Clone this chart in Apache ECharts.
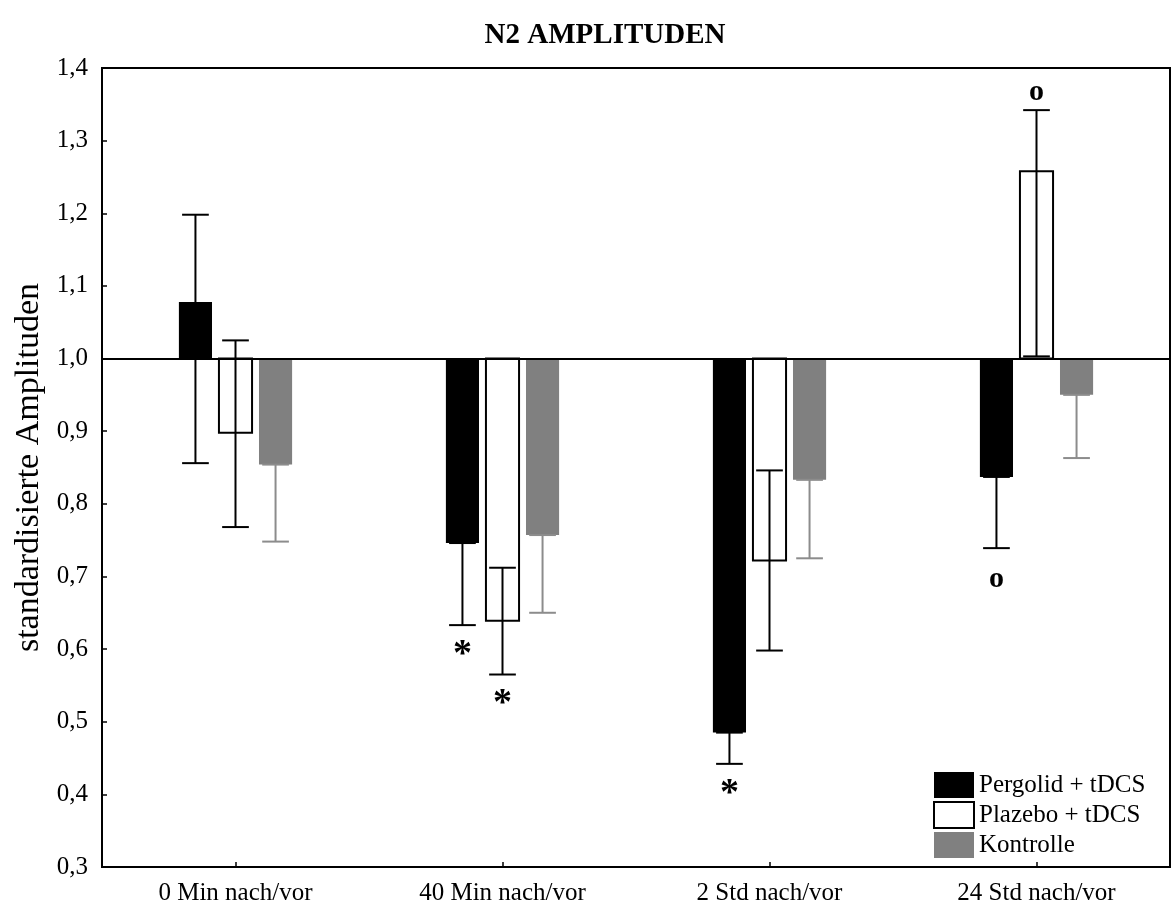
<!DOCTYPE html>
<html>
<head>
<meta charset="utf-8">
<script src="https://cdn.jsdelivr.net/npm/echarts@6/dist/echarts.min.js"></script>
<style>
  html, body { margin: 0; padding: 0; background: #fff; }
  #chart { width: 1173px; height: 909px; }
</style>
</head>
<body>
<div id="chart"></div>
<script>
// Daten
var categories = ['0 Min nach/vor', '40 Min nach/vor', '2 Std nach/vor', '24 Std nach/vor'];
var seriesNames = ['Pergolid + tDCS', 'Plazebo + tDCS', 'Kontrolle'];

var pergolid = [1.078, 0.746, 0.485, 0.837];
var pergolidLow = [0.856, 0.633, 0.442, 0.739];
var pergolidHigh = [1.198, 0.746, 0.485, 0.837];

var plazebo = [0.898, 0.639, 0.722, 1.258];
var plazeboLow = [0.768, 0.565, 0.598, 1.003];
var plazeboHigh = [1.025, 0.712, 0.846, 1.342];

var kontrolle = [0.854, 0.757, 0.833, 0.950];
var kontrolleLow = [0.748, 0.650, 0.725, 0.863];
var kontrolleHigh = [0.854, 0.757, 0.833, 0.950];

// Signifikanz-Markierungen
var pergolidMarks = ['', '*', '*', 'o'];
var plazeboMarks = ['', '*', '', 'o'];
var kontrolleMarks = ['', '', '', ''];

var FONT = 'Liberation Serif';

function rows(vals, lo, hi) {
  return vals.map(function (v, i) { return [i, v, lo[i], hi[i]]; });
}

function barRenderer(k, fill, stroke, whisker, marks) {
  return function (params, api) {
    var cat = api.value(0);
    var v = api.value(1);
    var band = api.size([1, 0])[0];
    var base = api.coord([cat, 1]);
    var cx = base[0] + (k - 1) * band * 0.15;
    var w = band * 0.124;
    var cap = band * 0.1;
    var yVal = api.coord([cat, v])[1];
    var yLo = api.coord([cat, api.value(2)])[1];
    var yHi = api.coord([cat, api.value(3)])[1];
    var lineStyle = { stroke: whisker, lineWidth: 2 };
    var children = [
      {
        type: 'rect',
        shape: { x: cx - w / 2, y: Math.min(base[1], yVal), width: w, height: Math.abs(yVal - base[1]) },
        style: { fill: fill, stroke: stroke || null, lineWidth: stroke ? 2 : 0 }
      },
      { type: 'line', shape: { x1: cx, y1: yLo, x2: cx, y2: yHi }, style: lineStyle },
      { type: 'line', shape: { x1: cx - cap / 2, y1: yLo, x2: cx + cap / 2, y2: yLo }, style: lineStyle },
      { type: 'line', shape: { x1: cx - cap / 2, y1: yHi, x2: cx + cap / 2, y2: yHi }, style: lineStyle }
    ];
    var m = marks[params.dataIndex];
    if (m) {
      var star = m === '*';
      var ty;
      if (v < 1) ty = yLo + (star ? 30 : 31);
      else ty = yHi - 18;
      children.push({
        type: 'text',
        x: cx, y: ty,
        style: {
          text: m, fill: '#000', align: 'center', verticalAlign: 'middle',
          font: 'bold ' + (star ? 38 : 30) + 'px "' + FONT + '"'
        }
      });
    }
    return { type: 'group', children: children };
  };
}

var chart = echarts.init(document.getElementById('chart'));

var option = {
  animation: false,
  backgroundColor: '#fff',
  title: {
    text: 'N2 AMPLITUDEN',
    left: 600,
    textAlign: 'center',
    top: 16,
    textStyle: { fontFamily: FONT, fontWeight: 'bold', fontSize: 29, color: '#000' }
  },
  legend: {
    orient: 'vertical',
    left: 928,
    top: 767,
    itemWidth: 40,
    itemHeight: 26,
    itemGap: 3,
    icon: 'rect',
    textStyle: { fontFamily: FONT, fontSize: 25, color: '#000' },
    data: [
      { name: seriesNames[0], itemStyle: { color: '#000', borderWidth: 0 } },
      { name: seriesNames[1], itemStyle: { color: '#fff', borderColor: '#000', borderWidth: 2 } },
      { name: seriesNames[2], itemStyle: { color: '#808080', borderWidth: 0 } }
    ]
  },
  grid: {
    left: 102, right: 3, top: 68, bottom: 42,
    show: true, borderColor: '#000', borderWidth: 2, backgroundColor: 'transparent'
  },
  xAxis: {
    type: 'category',
    data: categories,
    axisLine: { show: false },
    axisTick: { show: true, inside: true, alignWithLabel: true, length: 5, lineStyle: { color: '#000', width: 1.5 } },
    axisLabel: { fontFamily: FONT, fontSize: 25, color: '#000', margin: 14 },
    splitLine: { show: false }
  },
  yAxis: {
    type: 'value',
    min: 0.3, max: 1.4, interval: 0.1,
    name: 'standardisierte Amplituden',
    nameLocation: 'middle',
    nameGap: 54,
    nameTextStyle: { fontFamily: FONT, fontSize: 34, color: '#000' },
    axisLine: { show: false },
    axisTick: { show: true, inside: true, length: 5, lineStyle: { color: '#000', width: 1.5 } },
    axisLabel: {
      fontFamily: FONT, fontSize: 25, color: '#000', margin: 14,
      formatter: function (val) { return val.toFixed(1).replace('.', ','); }
    },
    splitLine: { show: false }
  },
  series: [
    {
      name: seriesNames[0], type: 'custom',
      itemStyle: { color: '#000' },
      renderItem: barRenderer(0, '#000', null, '#000', pergolidMarks),
      encode: { x: 0, y: 1 },
      data: rows(pergolid, pergolidLow, pergolidHigh),
      markLine: {
        silent: true, symbol: 'none', label: { show: false },
        lineStyle: { color: '#000', width: 2, type: 'solid' },
        data: [{ yAxis: 1 }]
      }
    },
    {
      name: seriesNames[1], type: 'custom',
      itemStyle: { color: '#fff', borderColor: '#000', borderWidth: 2 },
      renderItem: barRenderer(1, '#fff', '#000', '#000', plazeboMarks),
      encode: { x: 0, y: 1 },
      data: rows(plazebo, plazeboLow, plazeboHigh)
    },
    {
      name: seriesNames[2], type: 'custom',
      itemStyle: { color: '#808080' },
      renderItem: barRenderer(2, '#808080', null, '#8c8c8c', kontrolleMarks),
      encode: { x: 0, y: 1 },
      data: rows(kontrolle, kontrolleLow, kontrolleHigh)
    }
  ]
};

chart.setOption(option);
</script>
</body>
</html>
